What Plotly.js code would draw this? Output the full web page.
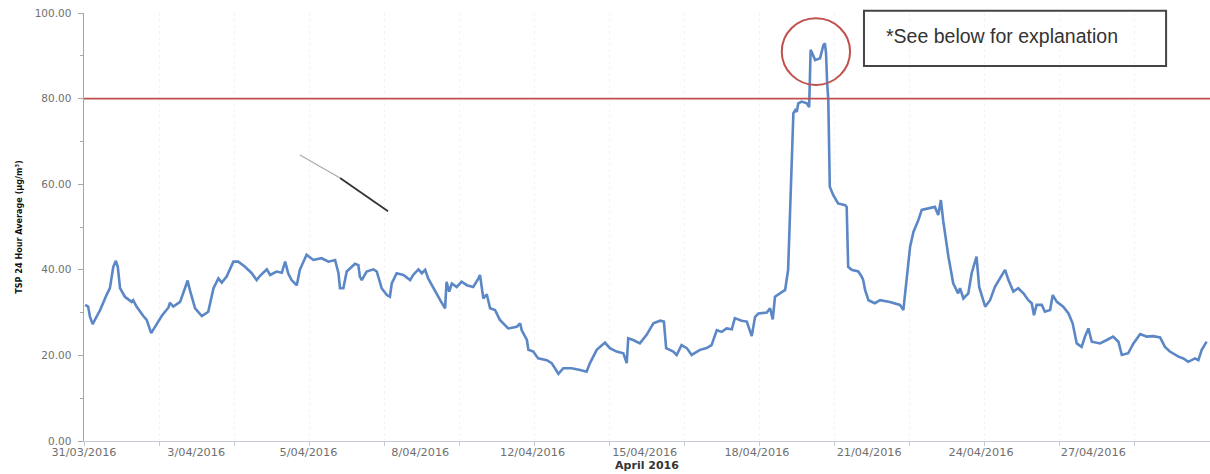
<!DOCTYPE html>
<html>
<head>
<meta charset="utf-8">
<script src="https://cdn.plot.ly/plotly-3.0.1.min.js"></script>
<style>html,body{margin:0;padding:0;background:#fff;}#chart{width:1210px;height:474px;}</style>
</head>
<body>
<div id="chart"></div>
<script>
// Days elapsed since 31/03/2016 00:00
const days = [0.03,0.11,0.16,0.23,0.29,0.43,0.60,0.69,0.78,0.85,0.90,0.96,1.09,1.27,1.31,1.40,1.58,1.67,1.79,1.89,2.07,2.25,2.29,2.38,2.56,2.69,2.76,2.82,2.96,3.14,3.31,3.45,3.58,3.67,3.80,3.98,4.11,4.29,4.47,4.60,4.69,4.87,4.96,5.13,5.27,5.36,5.44,5.53,5.67,5.75,5.93,6.11,6.33,6.51,6.69,6.78,6.82,6.91,7.00,7.22,7.31,7.35,7.40,7.53,7.71,7.80,7.93,8.07,8.15,8.20,8.33,8.51,8.69,8.77,8.91,9.00,9.09,9.17,9.31,9.49,9.62,9.66,9.73,9.80,9.93,10.06,10.20,10.37,10.51,10.55,10.64,10.73,10.82,10.95,11.08,11.30,11.53,11.62,11.66,11.80,11.84,11.97,12.10,12.33,12.46,12.64,12.77,12.99,13.22,13.39,13.48,13.66,13.88,14.01,14.19,14.37,14.46,14.50,14.63,14.81,14.99,15.17,15.35,15.45,15.51,15.70,15.79,15.92,16.06,16.19,16.41,16.59,16.72,16.86,16.99,17.12,17.26,17.34,17.52,17.66,17.79,17.88,17.97,18.19,18.28,18.35,18.41,18.59,18.68,18.76,18.81,18.85,18.90,18.95,18.99,19.03,19.12,19.26,19.32,19.36,19.48,19.61,19.70,19.74,19.77,19.80,19.83,19.87,19.96,20.09,20.28,20.32,20.36,20.45,20.63,20.72,20.76,20.81,20.90,21.07,21.21,21.47,21.74,21.83,21.92,22.01,22.10,22.23,22.32,22.49,22.67,22.76,22.83,22.89,23.03,23.16,23.29,23.34,23.43,23.56,23.65,23.78,23.85,24.01,24.14,24.27,24.41,24.54,24.63,24.76,24.89,25.03,25.16,25.25,25.31,25.38,25.52,25.60,25.74,25.81,25.92,26.09,26.23,26.34,26.45,26.58,26.67,26.76,26.85,27.07,27.25,27.42,27.56,27.65,27.82,27.96,28.14,28.31,28.49,28.67,28.80,28.93,29.16,29.29,29.42,29.60,29.69,29.78,29.91];
const tsp = [31.8,31.4,29.0,27.3,28.3,30.6,34.1,35.7,40.7,42.1,40.7,35.7,33.7,32.5,32.9,31.4,29.2,28.3,25.2,26.7,29.2,31.2,32.3,31.4,32.5,35.7,37.5,35.3,31.0,29.2,30.2,35.7,38.0,37.0,38.4,41.9,41.9,40.7,39.2,37.6,38.6,40.1,38.8,39.6,39.3,41.9,39.2,37.6,36.4,40.0,43.5,42.3,42.7,41.9,42.3,39.2,35.7,35.7,39.6,41.4,41.1,38.4,37.6,39.6,40.1,39.6,35.7,34.1,33.7,36.8,39.2,38.8,37.6,38.8,40.1,39.2,40.0,38.0,35.7,32.9,31.0,37.2,34.9,36.8,36.0,37.2,36.4,36.0,38.0,38.8,33.3,34.3,31.0,30.6,28.3,26.3,26.7,27.5,25.9,23.6,21.3,20.9,19.3,18.9,18.2,15.7,17.0,17.0,16.6,16.2,18.2,21.3,23.0,21.7,20.9,20.5,18.2,24.0,23.6,22.8,24.8,27.5,28.1,27.9,21.7,20.9,20.1,22.4,21.7,20.1,21.3,21.7,22.4,25.9,25.5,26.3,26.1,28.7,28.1,27.9,24.5,29.0,29.8,30.0,31.0,28.4,33.7,34.9,35.3,40.0,53.2,64.9,76.6,77.3,76.9,78.9,79.3,78.9,78.0,91.4,89.0,89.4,92.5,92.9,90.6,83.6,79.7,59.4,57.5,55.5,55.1,54.7,40.7,40.0,39.6,38.4,37.6,35.3,32.9,32.2,32.9,32.5,31.8,30.6,37.6,45.4,48.9,51.6,54.0,54.4,54.7,52.8,56.3,51.6,43.1,36.8,34.5,35.7,33.3,34.5,39.2,43.1,36.0,31.4,32.9,36.0,38.0,40.0,37.6,34.9,35.7,34.5,32.9,32.2,29.4,31.8,31.8,30.2,30.6,34.1,32.5,31.4,29.8,27.5,22.8,22.0,24.4,26.3,23.2,22.8,23.6,24.4,23.2,20.1,20.5,22.8,25.0,24.4,24.5,24.2,22.0,20.9,19.7,19.3,18.5,19.3,18.9,21.3,23.2];

const labelDays = [0, 2.99, 5.98, 8.96, 11.95, 14.94, 17.93, 20.92, 23.9, 26.89];
const labelText = ['31/03/2016','3/04/2016','5/04/2016','8/04/2016','12/04/2016','15/04/2016','18/04/2016','21/04/2016','24/04/2016','27/04/2016'];
const dayRange = [0, 30];
const threshold = 80;
const yTicks = [0, 20, 40, 60, 80, 100];

const traces = [
  {x: dayRange, y: [threshold, threshold], xaxis: 'x2', yaxis: 'y', mode: 'lines',
   line: {color: '#c0504d', width: 1.8}, hoverinfo: 'skip', showlegend: false},
  {x: days, y: tsp, xaxis: 'x', yaxis: 'y', mode: 'lines',
   line: {color: '#5b87c6', width: 2.6}, showlegend: false}
];

const layout = {
  width: 1210, height: 474,
  margin: {l: 84, r: 0, t: 13, b: 33},
  paper_bgcolor: '#fff', plot_bgcolor: '#fff',
  showlegend: false,
  xaxis: {
    range: dayRange, tickmode: 'array', tickvals: labelDays, ticktext: labelText,
    ticks: '', showgrid: false, zeroline: false,
    showline: true, linecolor: '#c4c9d8', linewidth: 1,
    tickfont: {family: 'DejaVu Sans, Verdana, sans-serif', size: 11.3, color: '#6f6f6f'},
    title: {text: '<b>April 2016</b>', standoff: 2,
      font: {family: 'DejaVu Sans, Verdana, sans-serif', size: 11, color: '#333'}}
  },
  xaxis2: {
    overlaying: 'x', anchor: 'y', side: 'bottom', range: dayRange,
    tickmode: 'linear', tick0: 0, dtick: 2, showticklabels: false,
    ticks: 'outside', ticklen: 4, tickcolor: '#c4c9d8',
    showgrid: true, gridcolor: '#f4f4f4', griddash: 'dot', gridwidth: 1,
    zeroline: false, showline: false
  },
  yaxis: {
    range: [0, 100], tickmode: 'array', tickvals: yTicks, tickformat: '.2f',
    ticks: 'outside', ticklen: 5, tickcolor: '#a6a6a6', ticklabelstandoff: 4,
    minor: {tickmode: 'linear', tick0: 0, dtick: 10, ticks: 'outside', ticklen: 3, tickcolor: '#a6a6a6', showgrid: false},
    showgrid: false, zeroline: false, showline: true, linecolor: '#a6a6a6', linewidth: 1.5,
    tickfont: {family: 'DejaVu Sans, Verdana, sans-serif', size: 10.5, color: '#6f6f6f'},
    title: {text: 'TSP 24 Hour Average (µg/m³)', standoff: 10,
      font: {family: 'DejaVu Sans Condensed, Liberation Sans Narrow, Arial Narrow, sans-serif', size: 9, color: '#111', weight: 'bold'}}
  },
  shapes: [
    {type: 'circle', xref: 'x', yref: 'y', x0: 18.59, x1: 20.41, y0: 83.2, y1: 98.8,
     line: {color: '#c0504d', width: 2}},
    {type: 'rect', xref: 'paper', yref: 'paper', x0: 0.6927, x1: 0.961, y0: 0.876, y1: 1.005,
     line: {color: '#444', width: 2}, fillcolor: 'rgba(0,0,0,0)'},
    {type: 'line', xref: 'paper', yref: 'paper', x0: 0.1918, y0: 0.668, x1: 0.2274, y1: 0.6145,
     line: {color: '#aaa', width: 1.2}},
    {type: 'line', xref: 'paper', yref: 'paper', x0: 0.2274, y0: 0.6145, x1: 0.27, y1: 0.537,
     line: {color: '#333', width: 1.8}}
  ],
  annotations: [
    {xref: 'paper', yref: 'paper', x: 0.7105, y: 0.946, xanchor: 'left', yanchor: 'middle',
     text: '*See below for explanation', showarrow: false,
     font: {family: 'Liberation Sans, Arial, sans-serif', size: 19.5, color: '#333'}}
  ]
};

Plotly.newPlot('chart', traces, layout, {displayModeBar: false, staticPlot: true});
</script>
</body>
</html>
